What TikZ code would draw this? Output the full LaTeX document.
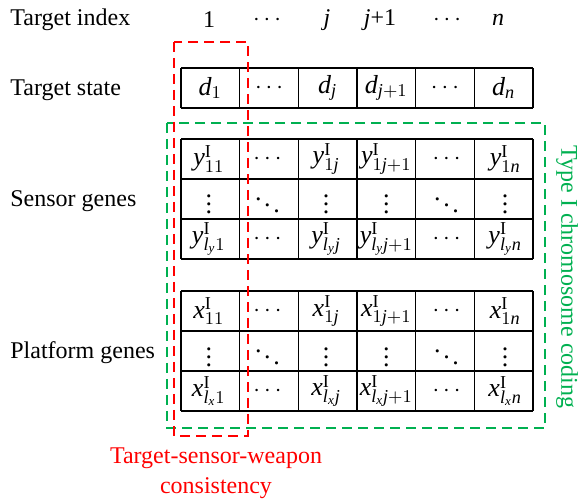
\documentclass[tikz,border=0pt]{standalone}
\usepackage{fontspec}
\setmainfont{Liberation Serif}
\usepackage{tikz}
\usetikzlibrary{matrix,positioning}
\definecolor{cred}{RGB}{255,0,0}
\definecolor{cgreen}{RGB}{0,176,80}
\newcommand{\mi}[1]{\mathit{#1}}
\newcommand{\gene}[2]{\mi{#1}^{\mathrm{I}}_{#2}}
\tikzset{cell/.style={minimum width=25pt,minimum height=16pt,inner sep=0pt,anchor=center,font=\fontsize{13}{15}\selectfont},
  genes/.style={matrix of math nodes,nodes={cell},column sep=4.333pt,row sep=4pt,inner sep=0pt,anchor=center},
  gridline/.style={line width=.7pt,xstep=29.333pt,ystep=20pt},
  nil/.style={inner sep=0pt},
  redbox/.style={draw=cred,line width=1pt,dash pattern=on 5pt off 3pt},
  greenbox/.style={draw=cgreen,line width=1pt,dash pattern=on 5pt off 3pt}}

\begin{document}
\begin{tikzpicture}[x=.5pt,y=-.5pt,font=\rmfamily\fontsize{12}{15}\selectfont]
  \useasboundingbox (0,0) rectangle (579,502);
  % row labels
  \node[nil,anchor=west] (lidx) at (10,20) {Target index};
  \node[nil,anchor=west] (lst) at (10,90) {Target state};
  \node[nil,anchor=west] (lsen) at (10,201) {Sensor genes};
  \node[nil,anchor=west] (lpla) at (10,353) {Platform genes};
  % target index
  \node[nil] (h1) at (209,20) {1};\node[nil] (h2) at (267,20) {$\cdots$};\node[nil] (h3) at (327,20) {$\mi{j}$};
  \node[nil] (h4) at (380,20) {$\mi{j}$+1};\node[nil] (h5) at (447,20) {$\cdots$};\node[nil] (h6) at (498,20) {$\mi{n}$};
  % cell lines
  \draw[gridline,shift={(181,68)}] (0,0) grid (352,40);
  \draw[gridline,shift={(181,139)}] (0,0) grid (352,120);
  \draw[gridline,shift={(181,291)}] (0,0) grid (352,120);
  % gene tables
  \matrix (tst) [genes] at (357,88) {
    \mi{d}_1 & \cdots & \mi{d}_{\mi{j}} & \mi{d}_{\mi{j}+1} & \cdots & \mi{d}_{\mi{n}} \\
  };
  \matrix (sen) [genes] at (357,199) {
    \gene{y}{11} & \cdots & \gene{y}{1\mi{j}} & \gene{y}{1\mi{j}+1} & \cdots & \gene{y}{1\mi{n}} \\
    \vdots & \ddots & \vdots & \vdots & \ddots & \vdots \\
    \gene{y}{\mi{l}_{\mi{y}}1} & \cdots & \gene{y}{\mi{l}_{\mi{y}}\mi{j}} & \gene{y}{\mi{l}_{\mi{y}}\mi{j}+1} & \cdots & \gene{y}{\mi{l}_{\mi{y}}\mi{n}} \\
  };
  \matrix (pla) [genes] at (357,351) {
    \gene{x}{11} & \cdots & \gene{x}{1\mi{j}} & \gene{x}{1\mi{j}+1} & \cdots & \gene{x}{1\mi{n}} \\
    \vdots & \ddots & \vdots & \vdots & \ddots & \vdots \\
    \gene{x}{\mi{l}_{\mi{x}}1} & \cdots & \gene{x}{\mi{l}_{\mi{x}}\mi{j}} & \gene{x}{\mi{l}_{\mi{x}}\mi{j}+1} & \cdots & \gene{x}{\mi{l}_{\mi{x}}\mi{n}} \\
  };
  % dashed frames
  \draw[greenbox] (167,123) rectangle (545,428);
  \draw[redbox] (174,42) rectangle (248,436);
  \node[nil,text=cgreen,rotate=-90] (ltype) at (567,277) {Type I chromosome coding};
  \node[nil,text=cred,align=center] (lcons) at (216,473) {Target-sensor-weapon\\consistency};
\end{tikzpicture}
\end{document}
